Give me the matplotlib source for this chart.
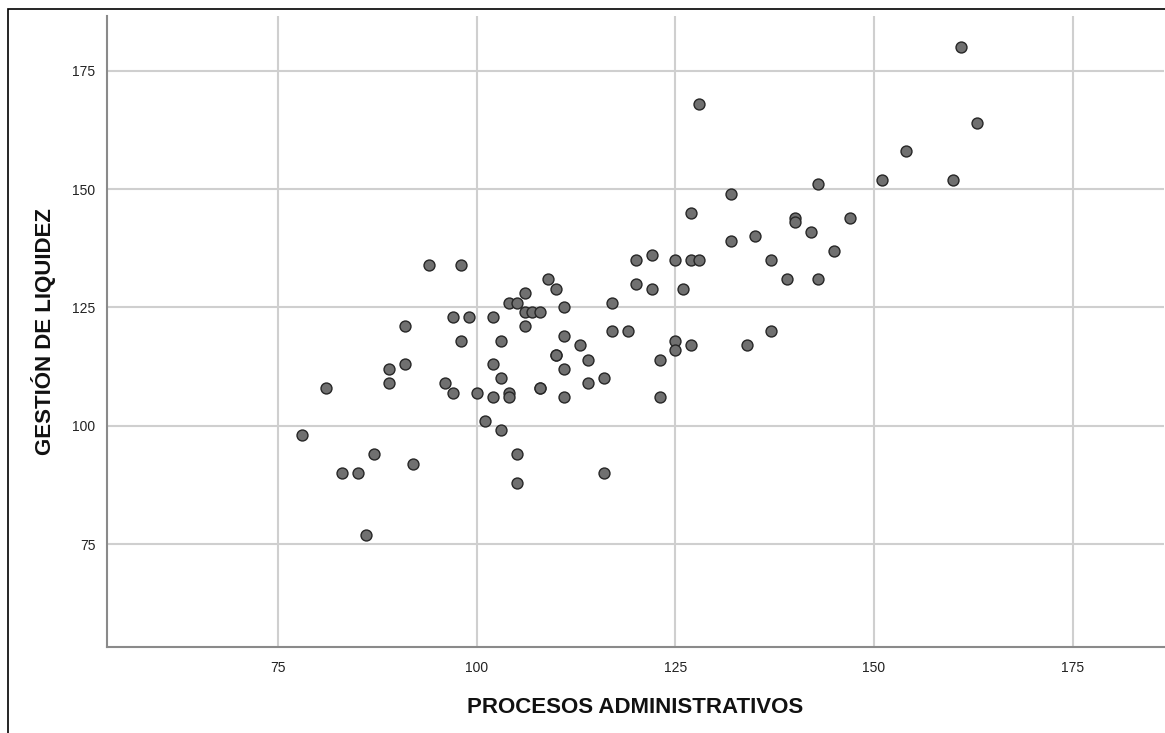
import matplotlib
matplotlib.use("Agg")
import matplotlib.pyplot as plt
from matplotlib.patches import Rectangle

plt.rcParams['font.family'] = ['Liberation Sans', 'DejaVu Sans']

procesos = [78, 81, 83, 85, 86, 87, 89, 89, 91, 91, 92, 94, 96, 97, 97, 98, 98, 99,
            100, 101, 102, 102, 102, 103, 103, 103, 104, 104, 104, 105, 105, 105,
            106, 106, 106, 107, 108, 108, 108, 109, 110, 110, 110, 111, 111, 111, 111,
            113, 114, 114, 116, 116, 117, 117, 119, 120, 120, 122, 122, 123, 123,
            125, 125, 125, 126, 127, 127, 127, 128, 128, 132, 132, 134, 135, 137, 137,
            139, 140, 140, 142, 143, 143, 145, 147, 151, 154, 160, 161, 163]
liquidez = [98, 108, 90, 90, 77, 94, 112, 109, 121, 113, 92, 134, 109, 123, 107, 134, 118, 123,
            107, 101, 123, 113, 106, 118, 110, 99, 126, 107, 106, 126, 94, 88,
            128, 124, 121, 124, 124, 108, 108, 131, 129, 115, 115, 125, 119, 112, 106,
            117, 114, 109, 110, 90, 126, 120, 120, 135, 130, 136, 129, 114, 106,
            135, 118, 116, 129, 145, 135, 117, 168, 135, 149, 139, 117, 140, 135, 120,
            131, 144, 143, 141, 151, 131, 137, 144, 152, 158, 152, 180, 164]

x_ticks = [75, 100, 125, 150, 175]
y_ticks = [75, 100, 125, 150, 175]

fig = plt.figure(figsize=(11.65, 7.33), dpi=100)
fig.patches.append(Rectangle((8 / 1165, -0.2), 1.3, 1 - 9 / 733 + 0.2,
                             transform=fig.transFigure, fill=False,
                             edgecolor='black', linewidth=1.2))

ax = fig.add_axes([106.7 / 1165, 1 - 646.7 / 733, (1164 - 106.7) / 1165, (646.7 - 16) / 733])
ax.set_xlim(53.4, 186.5)
ax.set_ylim(53.3, 186.6)
ax.set_xticks(x_ticks)
ax.set_yticks(y_ticks)
ax.grid(True, color='#cfcfcf', linewidth=1.5)
ax.set_axisbelow(True)
for s in ['top', 'right']:
    ax.spines[s].set_visible(False)
for s in ['left', 'bottom']:
    ax.spines[s].set_color('#8a8a8a')
    ax.spines[s].set_linewidth(1.5)
ax.tick_params(axis='x', length=0, labelsize=10, colors='#222222', pad=10)
ax.tick_params(axis='y', length=0, labelsize=10, colors='#222222', pad=8)

ax.scatter(procesos, liquidez, s=62, facecolor='#707070', edgecolor='#262626',
           linewidth=1.0, zorder=3)

ax.set_xlabel('PROCESOS ADMINISTRATIVOS', fontsize=16, fontweight='bold', labelpad=16, color='#111111')
ax.set_ylabel('GESTIÓN DE LIQUIDEZ', fontsize=16, fontweight='bold', labelpad=12, color='#111111')

fig.savefig('out.png', dpi=100)
